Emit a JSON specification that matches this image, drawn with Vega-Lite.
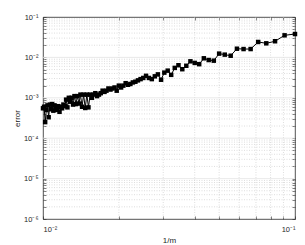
{
  "$schema": "https://vega.github.io/schema/vega-lite/v6.json",
  "width": 252,
  "height": 202,
  "autosize": "none",
  "padding": {"left": 43, "top": 17, "right": 10, "bottom": 26},
  "config": {
    "view": {"stroke": "#262626", "strokeWidth": 0.8},
    "axis": {"labelFont": "Liberation Sans", "titleFont": "Liberation Sans", "labelColor": "#262626", "titleColor": "#262626", "labelFontSize": 7.5, "titleFontSize": 8, "titleFontWeight": "normal", "domain": false, "tickColor": "#262626", "tickWidth": 0.6, "grid": false}
  },
  "resolve": {"axis": {"x": "independent", "y": "independent"}},
  "datasets": {
    "gx": [{"g": 0.02}, {"g": 0.03}, {"g": 0.04}, {"g": 0.05}, {"g": 0.06}, {"g": 0.07}, {"g": 0.08}, {"g": 0.09}],
    "gyminor": [
      {"g": 2e-6}, {"g": 3e-6}, {"g": 4e-6}, {"g": 5e-6}, {"g": 6e-6}, {"g": 7e-6}, {"g": 8e-6}, {"g": 9e-6},
      {"g": 2e-5}, {"g": 3e-5}, {"g": 4e-5}, {"g": 5e-5}, {"g": 6e-5}, {"g": 7e-5}, {"g": 8e-5}, {"g": 9e-5},
      {"g": 2e-4}, {"g": 3e-4}, {"g": 4e-4}, {"g": 5e-4}, {"g": 6e-4}, {"g": 7e-4}, {"g": 8e-4}, {"g": 9e-4},
      {"g": 2e-3}, {"g": 3e-3}, {"g": 4e-3}, {"g": 5e-3}, {"g": 6e-3}, {"g": 7e-3}, {"g": 8e-3}, {"g": 9e-3},
      {"g": 2e-2}, {"g": 3e-2}, {"g": 4e-2}, {"g": 5e-2}, {"g": 6e-2}, {"g": 7e-2}, {"g": 8e-2}, {"g": 9e-2}
    ],
    "gymajor": [{"g": 1e-5}, {"g": 1e-4}, {"g": 1e-3}, {"g": 1e-2}],
    "err": [
      {"inv_m": 0.1, "error": 0.0379},
      {"inv_m": 0.09091, "error": 0.0352},
      {"inv_m": 0.08333, "error": 0.0251},
      {"inv_m": 0.07692, "error": 0.0223},
      {"inv_m": 0.07143, "error": 0.0241},
      {"inv_m": 0.06667, "error": 0.0161},
      {"inv_m": 0.0625, "error": 0.0161},
      {"inv_m": 0.05882, "error": 0.0164},
      {"inv_m": 0.05556, "error": 0.0110},
      {"inv_m": 0.05263, "error": 0.0117},
      {"inv_m": 0.05, "error": 0.0124},
      {"inv_m": 0.04762, "error": 0.0083},
      {"inv_m": 0.04545, "error": 0.0086},
      {"inv_m": 0.04348, "error": 0.0095},
      {"inv_m": 0.04167, "error": 0.0068},
      {"inv_m": 0.04, "error": 0.0073},
      {"inv_m": 0.03846, "error": 0.0080},
      {"inv_m": 0.03704, "error": 0.0062},
      {"inv_m": 0.03571, "error": 0.0051},
      {"inv_m": 0.03448, "error": 0.0064},
      {"inv_m": 0.03333, "error": 0.0055},
      {"inv_m": 0.03226, "error": 0.0037},
      {"inv_m": 0.03125, "error": 0.0047},
      {"inv_m": 0.0303, "error": 0.0042},
      {"inv_m": 0.02941, "error": 0.0028},
      {"inv_m": 0.02857, "error": 0.0038},
      {"inv_m": 0.02778, "error": 0.0034},
      {"inv_m": 0.02703, "error": 0.0029},
      {"inv_m": 0.02632, "error": 0.0031},
      {"inv_m": 0.02564, "error": 0.0035},
      {"inv_m": 0.025, "error": 0.0031},
      {"inv_m": 0.02439, "error": 0.0029},
      {"inv_m": 0.02381, "error": 0.0027},
      {"inv_m": 0.02326, "error": 0.0025},
      {"inv_m": 0.02273, "error": 0.0024},
      {"inv_m": 0.02222, "error": 0.0022},
      {"inv_m": 0.02174, "error": 0.0021},
      {"inv_m": 0.02128, "error": 0.0023},
      {"inv_m": 0.02083, "error": 0.0020},
      {"inv_m": 0.02041, "error": 0.0018},
      {"inv_m": 0.02, "error": 0.0020},
      {"inv_m": 0.01961, "error": 0.0015},
      {"inv_m": 0.01923, "error": 0.0018},
      {"inv_m": 0.01887, "error": 0.0017},
      {"inv_m": 0.01852, "error": 0.0016},
      {"inv_m": 0.01818, "error": 0.0017},
      {"inv_m": 0.01786, "error": 0.0015},
      {"inv_m": 0.01754, "error": 0.0014},
      {"inv_m": 0.01724, "error": 0.0015},
      {"inv_m": 0.01695, "error": 0.0013},
      {"inv_m": 0.01667, "error": 0.0012},
      {"inv_m": 0.01639, "error": 0.0011},
      {"inv_m": 0.01613, "error": 0.0013},
      {"inv_m": 0.01587, "error": 0.0012},
      {"inv_m": 0.01563, "error": 0.0010},
      {"inv_m": 0.01538, "error": 0.0012},
      {"inv_m": 0.01515, "error": 0.00058},
      {"inv_m": 0.01493, "error": 0.0012},
      {"inv_m": 0.01471, "error": 0.00056},
      {"inv_m": 0.01449, "error": 0.0012},
      {"inv_m": 0.01429, "error": 0.00060},
      {"inv_m": 0.01408, "error": 0.0012},
      {"inv_m": 0.01389, "error": 0.00072},
      {"inv_m": 0.0137, "error": 0.0011},
      {"inv_m": 0.01351, "error": 0.00070},
      {"inv_m": 0.01333, "error": 0.0011},
      {"inv_m": 0.01316, "error": 0.00068},
      {"inv_m": 0.01299, "error": 0.0010},
      {"inv_m": 0.01282, "error": 0.00080},
      {"inv_m": 0.01266, "error": 0.0010},
      {"inv_m": 0.0125, "error": 0.00058},
      {"inv_m": 0.01235, "error": 0.00090},
      {"inv_m": 0.0122, "error": 0.00062},
      {"inv_m": 0.01205, "error": 0.00068},
      {"inv_m": 0.0119, "error": 0.00055},
      {"inv_m": 0.01176, "error": 0.00060},
      {"inv_m": 0.01163, "error": 0.00045},
      {"inv_m": 0.01149, "error": 0.00062},
      {"inv_m": 0.01136, "error": 0.00050},
      {"inv_m": 0.01124, "error": 0.00055},
      {"inv_m": 0.01111, "error": 0.00065},
      {"inv_m": 0.01099, "error": 0.00048},
      {"inv_m": 0.01087, "error": 0.00070},
      {"inv_m": 0.01075, "error": 0.00052},
      {"inv_m": 0.01064, "error": 0.00068},
      {"inv_m": 0.01053, "error": 0.00033},
      {"inv_m": 0.01042, "error": 0.00065},
      {"inv_m": 0.01031, "error": 0.00050},
      {"inv_m": 0.0102, "error": 0.00025},
      {"inv_m": 0.0101, "error": 0.00060},
      {"inv_m": 0.01, "error": 0.00055}
    ]
  },
  "layer": [
    {
      "data": {"name": "gx"},
      "mark": {"type": "rule", "stroke": "#c8c8c8", "strokeWidth": 0.6, "strokeDash": [1, 1.5]},
      "encoding": {"x": {"field": "g", "type": "quantitative", "scale": {"type": "log", "domain": [0.01, 0.1], "nice": false},
        "axis": {"orient": "top", "title": null, "labels": false, "tickSize": -3, "values": [0.01, 0.02, 0.03, 0.04, 0.05, 0.06, 0.07, 0.08, 0.09, 0.1]}}}
    },
    {
      "data": {"name": "gyminor"},
      "mark": {"type": "rule", "stroke": "#c8c8c8", "strokeWidth": 0.6, "strokeDash": [1, 1.5]},
      "encoding": {"y": {"field": "g", "type": "quantitative", "scale": {"type": "log", "domain": [1e-6, 0.1], "nice": false},
        "axis": {"orient": "right", "title": null, "labels": false, "tickSize": -3,
          "values": [1e-6, 2e-6, 3e-6, 4e-6, 5e-6, 6e-6, 7e-6, 8e-6, 9e-6, 1e-5, 2e-5, 3e-5, 4e-5, 5e-5, 6e-5, 7e-5, 8e-5, 9e-5, 1e-4, 2e-4, 3e-4, 4e-4, 5e-4, 6e-4, 7e-4, 8e-4, 9e-4, 1e-3, 2e-3, 3e-3, 4e-3, 5e-3, 6e-3, 7e-3, 8e-3, 9e-3, 1e-2, 2e-2, 3e-2, 4e-2, 5e-2, 6e-2, 7e-2, 8e-2, 9e-2, 1e-1]}}}
    },
    {
      "data": {"name": "gymajor"},
      "mark": {"type": "rule", "stroke": "#e3e3e3", "strokeWidth": 0.8},
      "encoding": {"y": {"field": "g", "type": "quantitative", "axis": null}}
    },
    {
      "data": {"name": "err"},
      "mark": {"type": "line", "color": "#000000", "strokeWidth": 1, "point": {"shape": "square", "size": 20, "filled": true, "color": "#000000", "opacity": 1}},
      "encoding": {
        "x": {"field": "inv_m", "type": "quantitative", "axis": {"orient": "bottom", "title": "1/m", "titlePadding": 4, "tickSize": -3, "labelPadding": 9,
          "values": [0.01, 0.02, 0.03, 0.04, 0.05, 0.06, 0.07, 0.08, 0.09, 0.1],
          "labelExpr": "abs(log(datum.value)/LN10 - round(log(datum.value)/LN10)) < 0.001 ? '10⁻' + ['⁰','¹','²','³','⁴','⁵','⁶'][-round(log(datum.value)/LN10)] : ''"}},
        "y": {"field": "error", "type": "quantitative", "axis": {"orient": "left", "title": "error", "titlePadding": 2, "tickSize": -3, "labelPadding": 8,
          "values": [1e-6, 2e-6, 3e-6, 4e-6, 5e-6, 6e-6, 7e-6, 8e-6, 9e-6, 1e-5, 2e-5, 3e-5, 4e-5, 5e-5, 6e-5, 7e-5, 8e-5, 9e-5, 1e-4, 2e-4, 3e-4, 4e-4, 5e-4, 6e-4, 7e-4, 8e-4, 9e-4, 1e-3, 2e-3, 3e-3, 4e-3, 5e-3, 6e-3, 7e-3, 8e-3, 9e-3, 1e-2, 2e-2, 3e-2, 4e-2, 5e-2, 6e-2, 7e-2, 8e-2, 9e-2, 1e-1],
          "labelExpr": "abs(log(datum.value)/LN10 - round(log(datum.value)/LN10)) < 0.001 ? '10⁻' + ['⁰','¹','²','³','⁴','⁵','⁶'][-round(log(datum.value)/LN10)] : ''"}}
      }
    }
  ]
}
